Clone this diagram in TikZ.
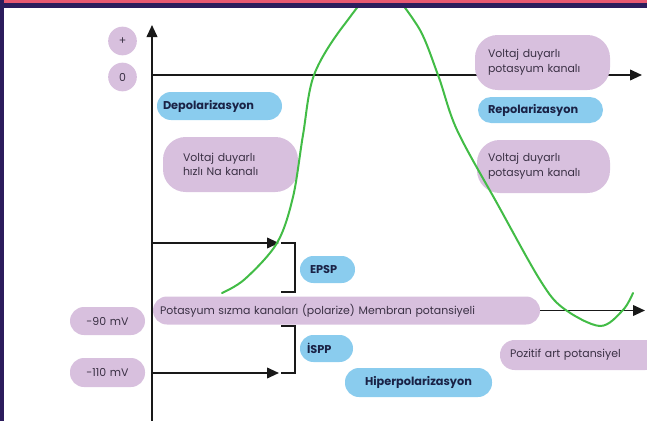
\documentclass[tikz,border=0pt]{standalone}
\usepackage{fontspec}
\setmainfont{Poppins}
\usetikzlibrary{arrows.meta}
\definecolor{lav}{RGB}{216,192,222}
\definecolor{sky}{RGB}{138,204,238}
\definecolor{navy}{RGB}{26,34,70}
\definecolor{ptext}{RGB}{58,48,68}
\definecolor{curvegreen}{RGB}{66,188,70}
\definecolor{bordr}{RGB}{44,28,92}
\definecolor{redb}{RGB}{232,88,112}
\begin{document}
\begin{tikzpicture}[x=0.75pt,y=-0.75pt,
  axis/.style={line width=1.3pt, draw=black!90},
  arr/.style={axis,-{Triangle[length=9pt,width=8pt]}},
  purp/.style={fill=lav, text=ptext, font=\fontsize{8.2}{11}\selectfont, inner ysep=0pt, align=left},
  blu/.style={fill=sky, text=navy, font=\bfseries\fontsize{8.5}{11}\selectfont, inner ysep=0pt, align=left},
]
\useasboundingbox (0,0) rectangle (647,421);
% axes
\coordinate (ybot) at (152,421);
\coordinate (ytop) at (152,25);
\coordinate (z0) at (152,75);
\coordinate (zend) at (642,75);
\draw[arr] (ybot) -- (ytop);
\draw[arr] (z0) -- (zend);
% EPSP arrow and bracket
\coordinate (e0) at (152,243);
\coordinate (e1) at (279,243);
\coordinate (b1) at (281,243);
\coordinate (bc1) at (295,243);
\coordinate (bc2) at (295,292);
\coordinate (b3) at (281,292);
\draw[arr] (e0) -- (e1);
\draw[axis] (b1) -- (bc1) -- (bc2) -- (b3);
% ISPP arrow and bracket
\coordinate (i0) at (152,373);
\coordinate (i1) at (279,373);
\coordinate (c1) at (281,326);
\coordinate (cc1) at (295,326);
\coordinate (cc2) at (295,373);
\coordinate (c3) at (281,373);
\draw[arr] (i0) -- (i1);
\draw[axis] (c1) -- (cc1) -- (cc2) -- (c3);
% nodes
\node[purp, circle, minimum size=21.5pt, inner sep=0pt, align=center] (plus) at (122.5,41) {+};
\node[purp, circle, minimum size=21.5pt, inner sep=0pt, align=center] (zero) at (122.5,77) {0};
\node[blu, rounded corners=10.5pt, minimum height=21pt, text width=84.75pt, inner xsep=4.5pt] (depol) at (219.5,106) {Depolarizasyon};
\node[blu, rounded corners=9.75pt, minimum height=19.5pt, text width=78.75pt, inner xsep=7.5pt] (repol) at (540.5,110) {Repolarizasyon};
\node[purp, rounded corners=17pt, minimum height=41.25pt, text width=81.75pt, inner xsep=9.75pt] (topK) at (542.5,62.5) {Voltaj duyarlı\\potasyum kanalı};
\node[purp, rounded corners=17pt, minimum height=41.25pt, text width=71.25pt, inner xsep=15pt] (na) at (230.5,164.5) {Voltaj duyarlı\\hızlı Na kanalı};
\node[purp, rounded corners=17pt, minimum height=39.75pt, text width=83.25pt, inner xsep=8.25pt] (midK) at (543.5,166.5) {Voltaj duyarlı\\potasyum kanalı};
\node[blu, rounded corners=10pt, minimum height=20.25pt, text width=26.25pt, inner xsep=7.5pt] (epsp) at (327.5,269.5) {EPSP};
\node[purp, rounded corners=10.5pt, minimum height=21pt, text width=279.75pt, inner xsep=5.25pt] (memb) at (346.5,310.5) {Potasyum sızma kanaları (polarize) Membran potansiyeli};
\node[purp, rounded corners=10.5pt, minimum height=21pt, text width=50pt, inner xsep=3.125pt, align=center] (m90) at (107.5,321) {-90 mV};
\node[purp, rounded corners=10.5pt, minimum height=21.75pt, text width=50pt, inner xsep=3.125pt, align=center] (m110) at (107.5,372.5) {-110 mV};
\node[blu, rounded corners=10pt, minimum height=20.25pt, text width=29.25pt, inner xsep=5.25pt] (ispp) at (326.5,348.5) {İSPP};
\node[blu, rounded corners=10.5pt, minimum height=21.75pt, text width=100pt, inner xsep=5.125pt, align=center] (hiper) at (418.5,382.5) {Hiperpolarizasyon};
\node[purp, rounded corners=11pt, minimum height=22.5pt, text width=105pt, inner xsep=7.5pt] (poz) at (580,355) {Pozitif art potansiyel};
% membrane line
\coordinate (mend) at (645,310.5);
\draw[arr] (memb.east) -- (mend);
% action potential curve
\begin{scope}
\clip (4,7.5) rectangle (647,421);
\draw[curvegreen, line width=1.5pt, line cap=round]
  plot[smooth, tension=0.55] coordinates {(222,293) (245,279) (277,243) (293,197) (303,135) (314,75) (344,25) (381,-12) (417,25) (438,75) (457,130) (498,205) (540,280) (563,308) (600,326) (623,310) (633,293)};
\end{scope}
% border
\fill[redb] (0,0) rectangle (647,3);
\fill[bordr] (0,3) rectangle (647,7.5);
\fill[bordr] (0,0) rectangle (4,421);
\end{tikzpicture}
\end{document}
